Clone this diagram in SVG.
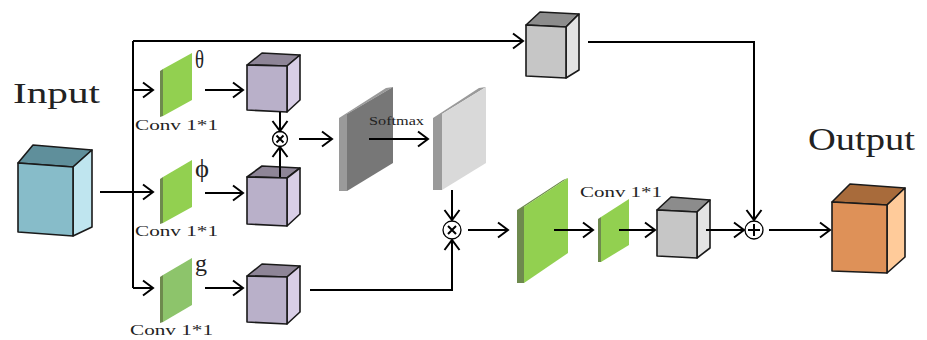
<svg xmlns="http://www.w3.org/2000/svg" width="927" height="340" viewBox="0 0 927 340">
<defs>
<marker id="arr" markerUnits="userSpaceOnUse" markerWidth="14" markerHeight="18" viewBox="0 0 14 18" refX="12" refY="9" orient="auto">
<path d="M2,1.5 L12,9 L2,16.5" fill="none" stroke="#000" stroke-width="2"/>
</marker>
</defs>
<style>
.edge{fill:none;stroke:#000;stroke-width:2}
.cube{stroke:#1a1a1a;stroke-width:1.6;stroke-linejoin:round}
.lbl{font-family:"Liberation Serif","DejaVu Serif",serif;fill:#222}
.op{fill:#fff;stroke:#000;stroke-width:1.3}
.sym{stroke:#000;stroke-width:2;fill:none}
</style>
<rect width="927" height="340" fill="#fff"/>

<g id="input">
<polygon class="cube" fill="#5F8F9B" points="18,163 33,145 92,150 73,167"/>
<polygon class="cube" fill="#BFE5EF" points="73,167 92,150 92,227 73,236"/>
<polygon class="cube" fill="#87BCC9" points="18,163 73,167 73,236 18,232"/>
<text class="lbl" x="13" y="103" font-size="30" textLength="87" lengthAdjust="spacingAndGlyphs">Input</text>
</g>

<g id="conv_theta">
<polygon fill="#6E8A4E" points="160,71 163,69 163,116 160,117"/>
<polygon fill="#92D050" points="163,69 192,53 192,100 163,116"/>
<text class="lbl" x="195" y="68" font-size="25" textLength="9" lengthAdjust="spacingAndGlyphs">θ</text>
<text class="lbl" x="135" y="130" font-size="15" textLength="83" lengthAdjust="spacingAndGlyphs">Conv 1*1</text>
</g>
<g id="conv_phi">
<polygon fill="#6E8A4E" points="160,179 163,177 163,223 160,224"/>
<polygon fill="#92D050" points="163,177 192,160 192,207 163,223"/>
<text class="lbl" x="195" y="177" font-size="25" font-family="DejaVu Serif" textLength="14" lengthAdjust="spacingAndGlyphs">ϕ</text>
<text class="lbl" x="135" y="236" font-size="15" textLength="83" lengthAdjust="spacingAndGlyphs">Conv 1*1</text>
</g>
<g id="conv_g">
<polygon fill="#6E8A4E" points="160,277 163,275 163,322 160,323"/>
<polygon fill="#8DC46B" points="163,275 192,258 192,305 163,322"/>
<text class="lbl" x="195" y="271" font-size="24">g</text>
<text class="lbl" x="130" y="335" font-size="15" textLength="83" lengthAdjust="spacingAndGlyphs">Conv 1*1</text>
</g>

<g id="cube_theta">
<polygon class="cube" fill="#8E8597" points="247,65 262,53 300,55 287,66"/>
<polygon class="cube" fill="#D9CFE7" points="287,66 300,55 300,100 287,112"/>
<polygon class="cube" fill="#B9B0C9" points="247,65 287,66 287,112 247,110"/>
</g>
<g id="cube_phi">
<polygon class="cube" fill="#8E8597" points="247,177 262,166 300,168 287,178"/>
<polygon class="cube" fill="#D9CFE7" points="287,178 300,168 300,214 287,226"/>
<polygon class="cube" fill="#B9B0C9" points="247,177 287,178 287,226 247,224"/>
</g>
<g id="cube_g">
<polygon class="cube" fill="#8E8597" points="247,276 262,264 300,266 287,277"/>
<polygon class="cube" fill="#D9CFE7" points="287,277 300,266 300,312 287,324"/>
<polygon class="cube" fill="#B9B0C9" points="247,276 287,277 287,324 247,322"/>
</g>

<g id="cube_skip">
<polygon class="cube" fill="#8C8C8C" points="526,25 540,12 579,14 566,27"/>
<polygon class="cube" fill="#E3E3E3" points="566,27 579,14 579,70 566,78"/>
<polygon class="cube" fill="#C6C6C6" points="526,25 566,27 566,78 526,76"/>
</g>

<g id="mul1">
<circle class="op" cx="280" cy="139" r="7.5"/>
<path class="sym" d="M276.5,135.5 L283.5,142.5 M283.5,135.5 L276.5,142.5"/>
</g>

<g id="plane_dark">
<polygon fill="#9A9A9A" points="339,118 386,88 393,87 347,114 347,191 339,191"/>
<polygon fill="#777777" points="347,114 393,87 393,163 347,191"/>
<text class="lbl" x="369" y="125" font-size="13" textLength="55" lengthAdjust="spacingAndGlyphs">Softmax</text>
</g>

<g id="plane_light">
<polygon fill="#9A9A9A" points="433,118 479,88 486,87 442,114 442,190 433,190"/>
<polygon fill="#D9D9D9" points="442,114 486,87 486,163 442,190"/>
</g>

<g id="mul2">
<circle class="op" cx="452" cy="230" r="9"/>
<path class="sym" d="M448,226 L456,234 M456,226 L448,234"/>
</g>

<g id="plane_green">
<polygon fill="#6E8A4E" points="517,210 563,180 568,178 524,207 524,283 517,283"/>
<polygon fill="#92D050" points="524,207 568,178 568,253 524,283"/>
</g>

<g id="conv_out">
<polygon fill="#6E8A4E" points="598,219 601,217 601,262 598,262"/>
<polygon fill="#92D050" points="601,217 629,199 629,245 601,262"/>
<text class="lbl" x="580" y="197" font-size="15" textLength="82" lengthAdjust="spacingAndGlyphs">Conv 1*1</text>
</g>

<g id="cube_out">
<polygon class="cube" fill="#8C8C8C" points="657,210 671,197 710,200 697,212"/>
<polygon class="cube" fill="#E3E3E3" points="697,212 710,200 710,248 697,258"/>
<polygon class="cube" fill="#C6C6C6" points="657,210 697,212 697,258 657,256"/>
</g>

<g id="add">
<circle class="op" cx="754" cy="230" r="9"/>
<path class="sym" d="M754,224 L754,236 M748,230 L760,230"/>
</g>

<g id="output">
<polygon class="cube" fill="#A86B3B" points="832,202 850,184 905,188 887,205"/>
<polygon class="cube" fill="#FFCB9A" points="887,205 905,188 905,257 887,273"/>
<polygon class="cube" fill="#DE9158" points="832,202 887,205 887,273 832,271"/>
<text class="lbl" x="808" y="150" font-size="31" textLength="107" lengthAdjust="spacingAndGlyphs">Output</text>
</g>

<g id="connectors">
<path class="edge" d="M100,192 L153,192" marker-end="url(#arr)"/>
<path class="edge" d="M133,41 L133,288"/>
<path class="edge" d="M133,90 L153,90" marker-end="url(#arr)"/>
<path class="edge" d="M133,288 L153,288" marker-end="url(#arr)"/>
<path class="edge" d="M133,41 L523,41" marker-end="url(#arr)"/>
<path class="edge" d="M205,90 L243,90" marker-end="url(#arr)"/>
<path class="edge" d="M205,193 L243,193" marker-end="url(#arr)"/>
<path class="edge" d="M205,288 L243,288" marker-end="url(#arr)"/>
<path class="edge" d="M280,112 L280,131" marker-end="url(#arr)"/>
<path class="edge" d="M280,177 L280,147" marker-end="url(#arr)"/>
<path class="edge" d="M299,139 L332,139" marker-end="url(#arr)"/>
<path class="edge" d="M369,139 L428,139" marker-end="url(#arr)"/>
<path class="edge" d="M452,190 L452,220" marker-end="url(#arr)"/>
<path class="edge" d="M310,290 L452,290 L452,240" marker-end="url(#arr)"/>
<path class="edge" d="M468,230 L508,230" marker-end="url(#arr)"/>
<path class="edge" d="M554,230 L593,230" marker-end="url(#arr)"/>
<path class="edge" d="M619,230 L655,230" marker-end="url(#arr)"/>
<path class="edge" d="M706,230 L744,230" marker-end="url(#arr)"/>
<path class="edge" d="M588,42 L754,42 L754,220" marker-end="url(#arr)"/>
<path class="edge" d="M769,230 L830,230" marker-end="url(#arr)"/>
</g>
</svg>
